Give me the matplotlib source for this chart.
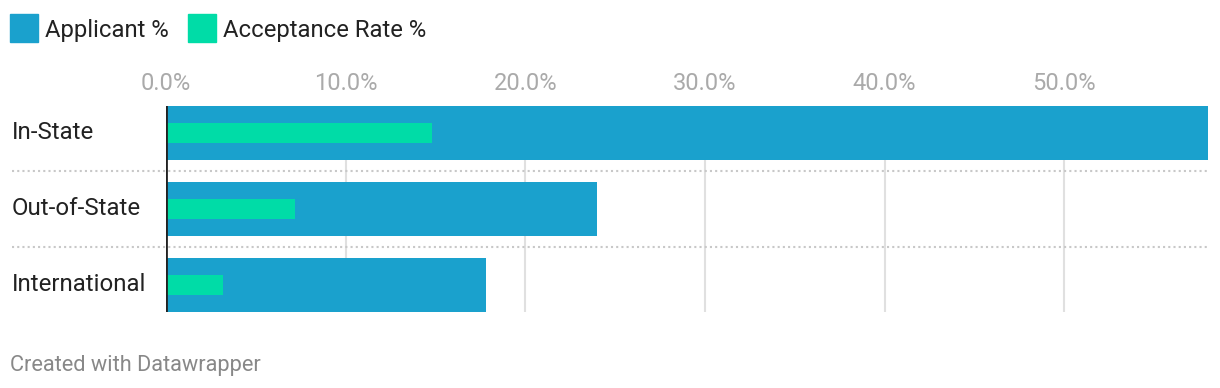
import matplotlib.pyplot as plt
from matplotlib import transforms

categories = ['In-State', 'Out-of-State', 'International']
applicant_pct = [58.0, 24.0, 17.8]
acceptance_pct = [14.8, 7.2, 3.2]
ticks = [0, 10, 20, 30, 40, 50]

BLUE = '#1aa1cd'
GREEN = '#00dca7'

plt.rcParams['font.family'] = ['Roboto', 'DejaVu Sans']

W, H = 1220, 388
fig = plt.figure(figsize=(W / 100, H / 100), dpi=100)
ax = fig.add_axes([166 / W, 1 - 312 / H, (1208 - 166) / W, (312 - 106) / H])

y = list(range(len(categories)))
ax.barh(y, applicant_pct, height=54 / 76, color=BLUE, zorder=2)
ax.barh(y, acceptance_pct, height=20 / 76, color=GREEN, zorder=3)

ax.set_xlim(0, 58.0)
ax.set_ylim(len(categories) - 1 + 0.5 * 54 / 76, -0.5 * 54 / 76)

ax.xaxis.tick_top()
ax.set_xticks(ticks)
ax.set_xticklabels([f'{t:.1f}%' for t in ticks], color='#aaaaaa', fontsize=17)
ax.tick_params(axis='x', length=0, pad=8)
ax.set_yticks([])
for s in ax.spines.values():
    s.set_visible(False)

for t in ticks[1:]:
    ax.axvline(t, color='#e0e0e0', lw=1.5, zorder=1)
ax.axvline(0, color='#222222', lw=2, zorder=4)

# dotted separators between rows
for i in range(len(categories) - 1):
    ax.axhline(i + 0.5, xmin=(12 - 166) / 1042, xmax=1, color='#c8c8c8',
               lw=1.5, ls=(0, (1, 1.5)), clip_on=False, zorder=1)

trans = transforms.blended_transform_factory(fig.transFigure, ax.transData)
for i, c in enumerate(categories):
    ax.text(12 / W, i - 0.01, c, transform=trans, ha='left', va='center',
            fontsize=17.3, color='#222222')

# legend
fig.patches.append(plt.Rectangle((10 / W, 1 - 42 / H), 28 / W, 28 / H,
                                 transform=fig.transFigure, color=BLUE))
fig.text(45 / W, 1 - 30 / H, 'Applicant %', ha='left', va='center',
         fontsize=17.2, color='#222222')
fig.patches.append(plt.Rectangle((188 / W, 1 - 42 / H), 28 / W, 28 / H,
                                 transform=fig.transFigure, color=GREEN))
fig.text(223 / W, 1 - 30 / H, 'Acceptance Rate %', ha='left', va='center',
         fontsize=17.2, color='#222222')

fig.text(10 / W, 1 - 365 / H, 'Created with Datawrapper', ha='left',
         va='center', fontsize=15.7, color='#888888')

fig.savefig('out.png', dpi=100)
